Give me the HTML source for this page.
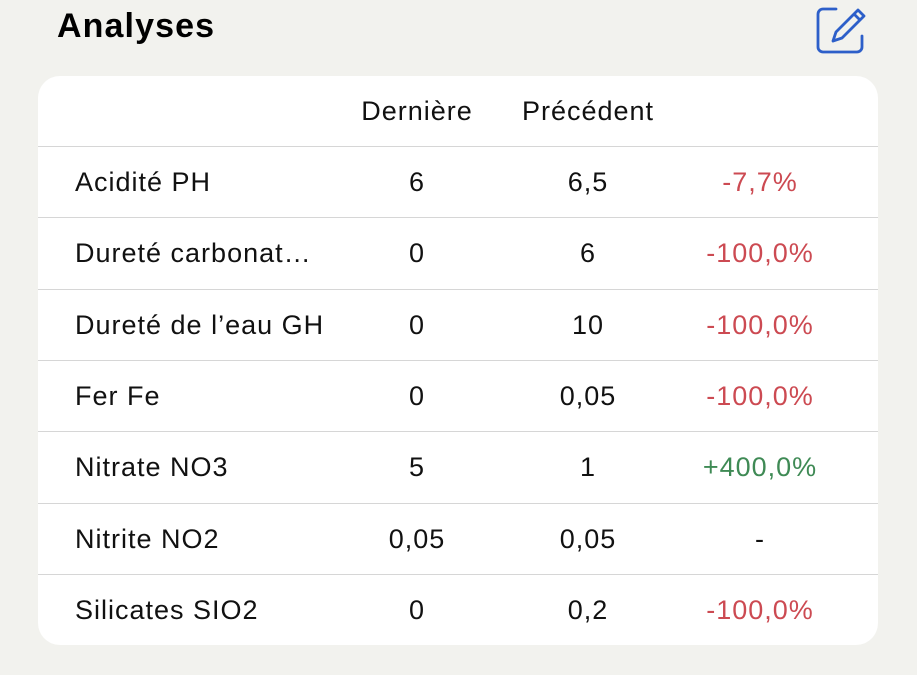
<!DOCTYPE html>
<html><head><meta charset="utf-8"><style>
body{margin:0;width:917px;height:675px;background:#f2f2ee;font-family:"Liberation Sans",sans-serif;position:relative;overflow:hidden}
.t{position:absolute;left:57px;top:7px;font-size:34px;font-weight:bold;color:#000;letter-spacing:1.1px}
.card{position:absolute;left:38px;top:76px;width:840px;height:569px;background:#fff;border-radius:22px;overflow:hidden}
.row{position:absolute;left:0;width:840px;height:71px;border-top:1px solid #d6d6d6}
.row div,.h div{position:absolute;top:0;line-height:71px;font-size:27px;letter-spacing:1px;color:#111;white-space:nowrap}
.n{left:37px}
.a{left:309px;width:140px;text-align:center}
.b{left:480px;width:140px;text-align:center}
.c{left:622px;width:200px;text-align:center}
.r{color:#cc4a52!important}.g{color:#3f8a55!important}
.h{position:absolute;left:0;top:0;width:840px;height:70px}
</style></head><body>
<div class="t">Analyses</div>
<svg style="position:absolute;left:810px;top:2px" width="60" height="56" viewBox="0 0 60 56">
<path d="M26 7 H13 a5 5 0 0 0 -5 5 V45 a5 5 0 0 0 5 5 H47 a5 5 0 0 0 5 -5 V34" fill="none" stroke="#2d5fc9" stroke-width="2.8" stroke-linecap="round"/>
<path d="M48 8 l6 6 -22 22 -9 3 3 -9z M44 12 l6 6" fill="none" stroke="#2d5fc9" stroke-width="2.8" stroke-linejoin="round"/>
</svg>
<div class="card">
<div class="h"><div class="a">Dernière</div><div class="b" style="left:465px;width:170px">Précédent</div></div>
<div class="row" style="top:70px"><div class="n">Acidité PH</div><div class="a">6</div><div class="b">6,5</div><div class="c r">-7,7%</div></div>
<div class="row" style="top:141px"><div class="n">Dureté carbonat…</div><div class="a">0</div><div class="b">6</div><div class="c r">-100,0%</div></div>
<div class="row" style="top:213px"><div class="n">Dureté de l’eau GH</div><div class="a">0</div><div class="b">10</div><div class="c r">-100,0%</div></div>
<div class="row" style="top:284px"><div class="n">Fer Fe</div><div class="a">0</div><div class="b">0,05</div><div class="c r">-100,0%</div></div>
<div class="row" style="top:355px"><div class="n">Nitrate NO3</div><div class="a">5</div><div class="b">1</div><div class="c g">+400,0%</div></div>
<div class="row" style="top:427px"><div class="n">Nitrite NO2</div><div class="a">0,05</div><div class="b">0,05</div><div class="c">-</div></div>
<div class="row" style="top:498px"><div class="n">Silicates SIO2</div><div class="a">0</div><div class="b">0,2</div><div class="c r">-100,0%</div></div>
</div>
</body></html>
